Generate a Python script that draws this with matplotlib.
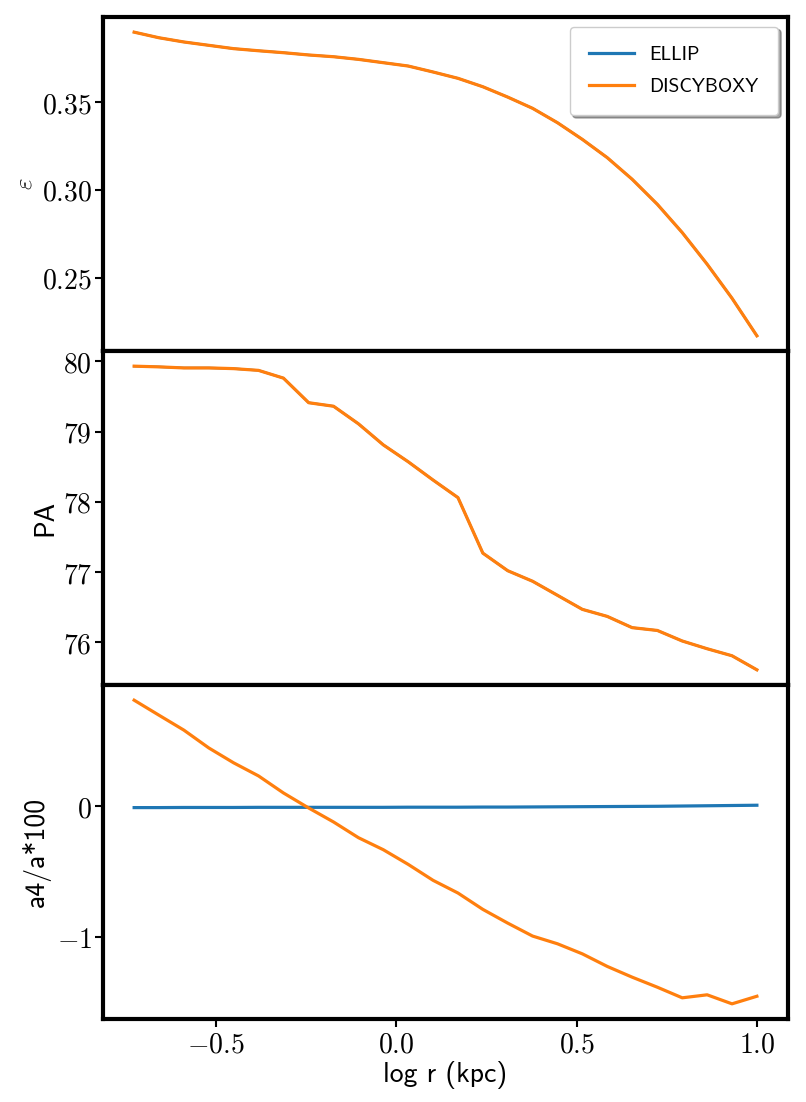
import matplotlib
matplotlib.use("Agg")
import matplotlib.pyplot as plt
from matplotlib.ticker import FuncFormatter, FixedLocator

plt.rcParams['mathtext.fontset'] = 'cm'

# ---- data ----
log_r = [-0.727, -0.658, -0.589, -0.520, -0.451, -0.382, -0.313, -0.243, -0.174,
         -0.105, -0.036, 0.033, 0.102, 0.171, 0.240, 0.309, 0.378, 0.447, 0.516,
         0.585, 0.654, 0.724, 0.793, 0.862, 0.931, 1.000]

ellip_eps = [0.3898, 0.3866, 0.3842, 0.3823, 0.3804, 0.3792, 0.3781, 0.3768, 0.3758,
             0.3743, 0.3724, 0.3705, 0.3671, 0.3635, 0.3587, 0.3528, 0.3464, 0.3382,
             0.3287, 0.3183, 0.3060, 0.2917, 0.2756, 0.2576, 0.2382, 0.2168]
discy_eps = list(ellip_eps)

ellip_pa = [79.93, 79.92, 79.905, 79.905, 79.895, 79.87, 79.76, 79.41, 79.36, 79.11,
            78.81, 78.57, 78.31, 78.06, 77.27, 77.02, 76.87, 76.67, 76.47, 76.37,
            76.21, 76.17, 76.02, 75.91, 75.81, 75.61]
discy_pa = list(ellip_pa)

ellip_a4 = [-0.010, -0.010, -0.009, -0.009, -0.009, -0.008, -0.008, -0.008, -0.008,
            -0.008, -0.008, -0.007, -0.007, -0.007, -0.006, -0.006, -0.005, -0.004,
            -0.003, -0.002, -0.001, 0.000, 0.002, 0.004, 0.006, 0.008]
discy_a4 = [0.811, 0.696, 0.582, 0.446, 0.332, 0.232, 0.102, -0.013, -0.120, -0.240,
            -0.332, -0.444, -0.566, -0.663, -0.788, -0.893, -0.992, -1.051, -1.128,
            -1.224, -1.306, -1.383, -1.464, -1.441, -1.510, -1.452]

series_names = ["ELLIP", "DISCYBOXY"]
xticks = [-0.5, 0.0, 0.5, 1.0]
eps_ticks = [0.25, 0.30, 0.35]
pa_ticks = [76, 77, 78, 79, 80]
a4_ticks = [-1, 0]

blue = '#1f77b4'
orange = '#ff7f0e'

fig = plt.figure(figsize=(8.06, 11.02), dpi=100)
gs = fig.add_gridspec(3, 1, left=0.1278, right=0.9777, bottom=0.0753, top=0.9846, hspace=0)
ax1 = fig.add_subplot(gs[0])
ax2 = fig.add_subplot(gs[1], sharex=ax1)
ax3 = fig.add_subplot(gs[2], sharex=ax1)

lw = 2.3
ax1.plot(log_r, ellip_eps, color=blue, lw=lw - 0.6, label=series_names[0])
ax1.plot(log_r, discy_eps, color=orange, lw=lw, label=series_names[1])
ax2.plot(log_r, ellip_pa, color=blue, lw=lw - 0.6)
ax2.plot(log_r, discy_pa, color=orange, lw=lw)
ax3.plot(log_r, ellip_a4, color=blue, lw=lw)
ax3.plot(log_r, discy_a4, color=orange, lw=lw)

ax1.yaxis.set_major_locator(FixedLocator(eps_ticks))
ax1.yaxis.set_major_formatter(FuncFormatter(lambda v, p: r'$%.2f$' % v))
ax2.yaxis.set_major_locator(FixedLocator(pa_ticks))
ax2.yaxis.set_major_formatter(FuncFormatter(lambda v, p: r'$%d$' % round(v)))
ax3.yaxis.set_major_locator(FixedLocator(a4_ticks))
ax3.yaxis.set_major_formatter(FuncFormatter(lambda v, p: r'$%d$' % round(v)))
ax3.xaxis.set_major_locator(FixedLocator(xticks))
ax3.xaxis.set_major_formatter(FuncFormatter(lambda v, p: r'$%.1f$' % v))

for ax in (ax1, ax2, ax3):
    for s in ax.spines.values():
        s.set_linewidth(3.0)
    ax.tick_params(direction='out', length=6, width=1.5, labelsize=20, pad=2)
for ax in (ax1, ax2):
    ax.tick_params(axis='x', labelbottom=False, bottom=False)

sans = 'cmss10'
ax1.set_ylabel(r'$\varepsilon$', fontsize=18)
ax2.set_ylabel('PA', fontsize=20, family=sans)
ax3.set_ylabel('a4/a*100', fontsize=20, family=sans)
ax3.set_xlabel('log r (kpc)', fontsize=20, family=sans, labelpad=2)

leg = ax1.legend(loc='upper right', prop={'family': sans, 'size': 14},
                 fancybox=True, shadow=True, framealpha=1, handlelength=2.3,
                 borderpad=1.0, labelspacing=0.7, borderaxespad=0.5)
for h in leg.legend_handles:
    h.set_linewidth(2.3)

fig.savefig('out.png', dpi=100)
